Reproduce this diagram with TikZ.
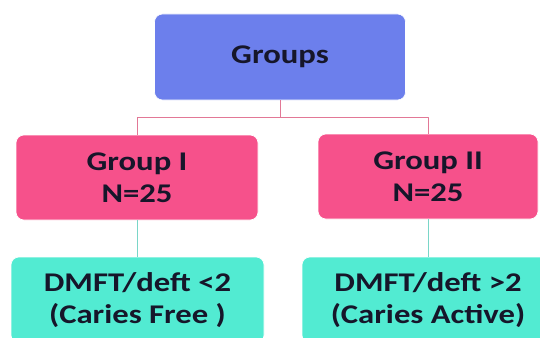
\documentclass[tikz,border=0pt]{standalone}
\usepackage{fontspec}
\setmainfont{Carlito}[FakeStretch=1.21]
\definecolor{topblue}{HTML}{6C7FEC}
\definecolor{grppink}{HTML}{F6518B}
\definecolor{subteal}{HTML}{52EBD2}
\definecolor{inkdark}{HTML}{16162A}
\definecolor{linkpink}{HTML}{E27896}
\definecolor{linkteal}{HTML}{7AD6C8}
\begin{document}
\begin{tikzpicture}[x=1pt,y=-1pt,line join=round,
    font=\fontsize{27}{32}\selectfont\bfseries,
    box/.style={rounded corners=8pt,align=center,text=inkdark,inner sep=0pt},
    lvl/.style={draw=white,line width=0.6pt}]
    \useasboundingbox (0,0) rectangle (540,337);
    \clip (0,0) rectangle (540,337);
    \node[box,lvl,fill=topblue,minimum width=251pt,minimum height=86pt] (groups) at (280,57) {Groups};
    \node[box,lvl,fill=grppink,minimum width=242pt,minimum height=85pt] (g1) at (137,177.5) {Group I\\N=25};
    \node[box,lvl,fill=grppink,minimum width=220pt,minimum height=85pt] (g2) at (428,176.5) {Group II\\N=25};
    \node[box,lvl,fill=subteal,minimum width=253pt,minimum height=86pt] (free) at (137.5,300) {DMFT/deft {<}2\\(Caries Free )};
    \node[box,lvl,fill=subteal,minimum width=252pt,minimum height=86pt] (active) at (428,300) {DMFT/deft {>}2\\(Caries Active)};
    % connectors
    \draw[linkpink,line width=0.9pt] (groups.south) -- ++(0,17) coordinate (split);
    \draw[linkpink,line width=0.9pt] (split) -| (g1.north);
    \draw[linkpink,line width=0.9pt] (split) -| (g2.north);
    \draw[linkteal,line width=0.9pt] (g1.south) -- (g1.south |- free.north);
    \draw[linkteal,line width=0.9pt] (g2.south) -- (g2.south |- active.north);
\end{tikzpicture}
\end{document}
